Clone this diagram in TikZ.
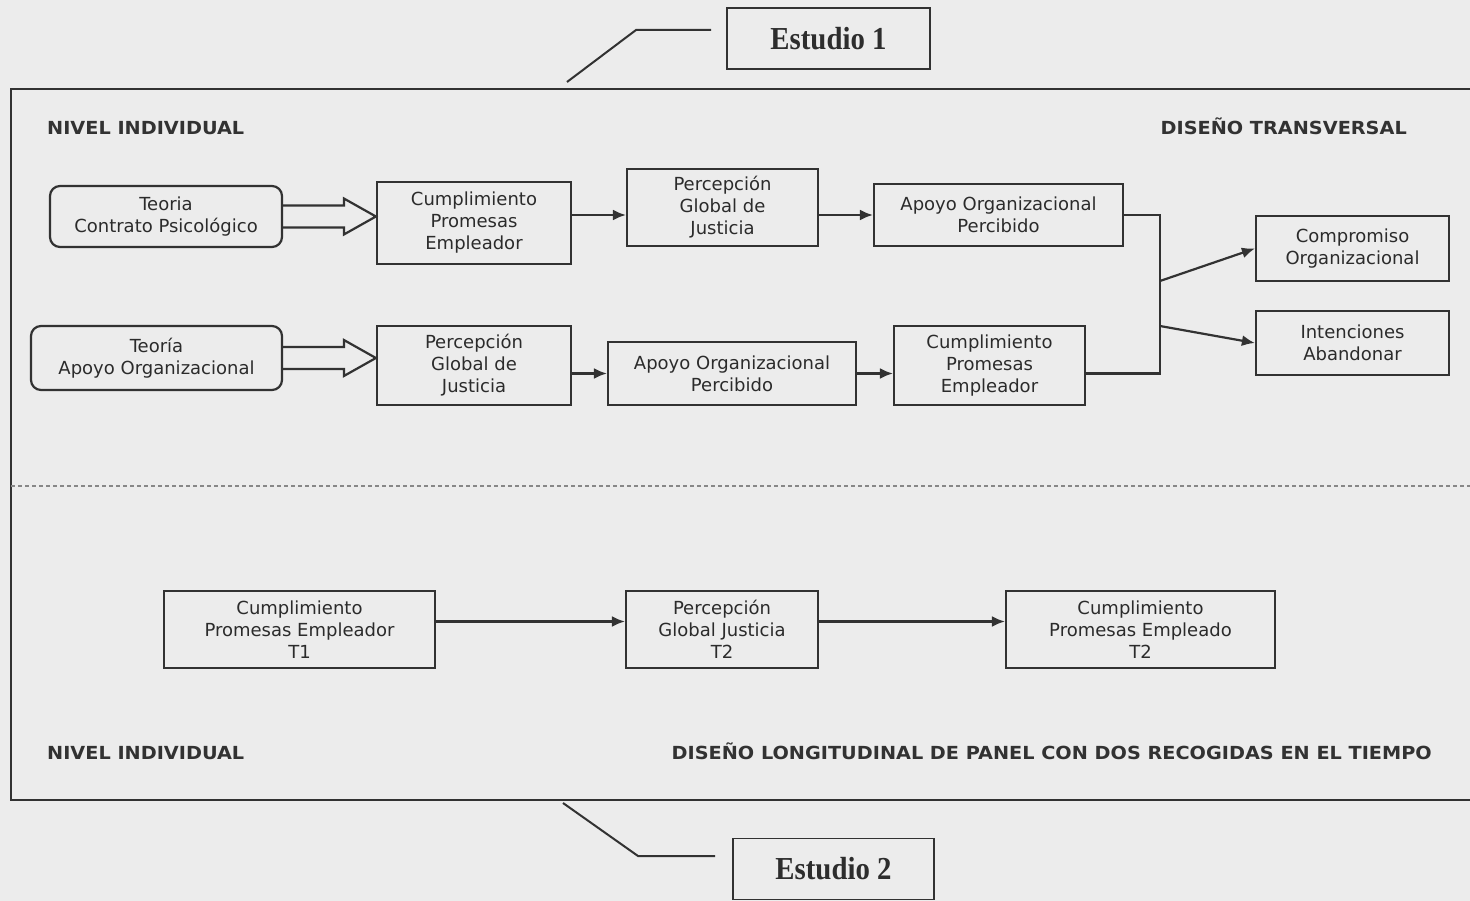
\documentclass[tikz,border=0pt]{standalone}
\usepackage{fontspec}
\setmainfont{DejaVu Sans}
\newfontfamily\headfont{DejaVu Sans}[FakeStretch=1.07]
\newfontfamily\studyfont{Liberation Serif}[FakeStretch=0.9]
\usetikzlibrary{arrows.meta,calc}
\definecolor{paper}{RGB}{236,236,236}
\definecolor{ink}{RGB}{50,50,50}
\definecolor{dashgray}{RGB}{135,135,135}

% outlined double-line arrow from a theory box to the first construct
\newcommand\blockarrow[2]{%
  \draw[link]
    ($(#1.east)+(0,-11)$) -- ($(#2.west |- #1.east)+(-32,-11)$) -- ++(0,-7)
    -- (#2.west |- #1.east)
    -- ($(#2.west |- #1.east)+(-32,18)$) -- ++(0,-7) -- ($(#1.east)+(0,11)$);}

\begin{document}
\begin{tikzpicture}[x=1pt,y=-1pt,
  wh/.style 2 args={minimum width=#1pt, minimum height=#2pt},
  box/.style={draw=ink, line width=2.2pt, align=center, inner sep=0pt,
    text=ink!85!black, font=\fontsize{18}{22}\selectfont},
  theory/.style={box, rounded corners=10pt},
  link/.style={draw=ink, line width=2.2pt},
  arr/.style={link, -{Latex[length=13pt,width=11pt]}},
  head/.style={font=\headfont\bfseries\fontsize{18}{22}\selectfont, text=ink, inner sep=0pt},
  study/.style={draw=ink, line width=1.8pt, inner sep=0pt,
    font=\studyfont\bfseries\fontsize{32}{34}\selectfont, text=ink!90!black}
]
\fill[paper] (0,0) rectangle (1470,901);
\useasboundingbox (0,0) rectangle (1470,901);
\clip (0,0) rectangle (1470,901);

% study frame and the divider between both studies
\draw[ink, line width=2.2pt] (11,89) rectangle (1490,800);
\draw[dashgray, line width=1.8pt, dash pattern=on 4pt off 3pt] (11,486) -- (1470,486);

% study labels with their leader lines
\node[study, wh={203}{61}] (e1) at (828.5,38.5) {Estudio 1};
\node[study, wh={201}{61}] (e2) at (833.5,869) {Estudio 2};
\coordinate (e1foot) at (567,82);
\coordinate (e1knee) at (636,30);
\coordinate (e2foot) at (563,803);
\coordinate (e2knee) at (638,856);
\draw[link, line width=2pt] (e1foot) -- (e1knee) -- ($(e1.west |- e1knee)+(-15,0)$);
\draw[link, line width=2pt] (e2foot) -- (e2knee) -- ($(e2.west |- e2knee)+(-17,0)$);

% headings
\node[head, anchor=base west] (lvl1) at (47,134.5) {NIVEL INDIVIDUAL};
\node[head, anchor=base east] (dis1) at (1407,134.5) {DISEÑO TRANSVERSAL};
\node[head, anchor=base west] (lvl2) at (47,759.5) {NIVEL INDIVIDUAL};
\node[head, anchor=base east] (dis2) at (1432,759.5) {DISEÑO LONGITUDINAL DE PANEL CON DOS RECOGIDAS EN EL TIEMPO};

% cross-sectional model, first path
\node[theory, wh={232}{61}] (tcp) at (166,216.5) {Teoria\\Contrato Psicológico};
\node[box, wh={194}{82}] (cpe1) at (474,223) {Cumplimiento\\Promesas\\Empleador};
\node[box, wh={191}{77}] (pgj1) at (722.5,207.5) {Percepción\\Global de\\Justicia};
\node[box, wh={249}{62}] (aop1) at (998.5,215) {Apoyo Organizacional\\Percibido};

% cross-sectional model, second path
\node[theory, wh={251}{64}] (tao) at (156.5,358) {Teoría\\Apoyo Organizacional};
\node[box, wh={194}{79}] (pgj2) at (474,365.5) {Percepción\\Global de\\Justicia};
\node[box, wh={248}{63}] (aop2) at (732,373.5) {Apoyo Organizacional\\Percibido};
\node[box, wh={191}{79}] (cpe2) at (989.5,365.5) {Cumplimiento\\Promesas\\Empleador};

% outcomes
\node[box, wh={193}{65}] (com) at (1352.5,248.5) {Compromiso\\Organizacional};
\node[box, wh={193}{64}] (int) at (1352.5,343) {Intenciones\\Abandonar};

\blockarrow{tcp}{cpe1}
\blockarrow{tao}{pgj2}

\draw[arr] (cpe1.east |- aop1.west) -- (pgj1.west |- aop1.west);
\draw[arr] (pgj1.east |- aop1.west) -- (aop1.west);
\draw[arr] (pgj2.east |- aop2.west) -- (aop2.west);
\draw[arr] (aop2.east) -- (cpe2.west |- aop2.east);

% both paths join before the outcomes
\coordinate (jx) at (1160,0);
\coordinate (j1) at (1160,281);
\coordinate (j2) at (1160,326);
\draw[link] (aop1.east) -- (aop1.east -| jx) -- (jx |- aop2.east) -- (cpe2.east |- aop2.east);
\draw[arr] (j1) -- (com.west);
\draw[arr] (j2) -- (int.west);

% longitudinal panel model
\node[box, wh={271}{77}] (b1) at (299.5,629.5) {Cumplimiento\\Promesas Empleador\\T1};
\node[box, wh={192}{77}] (b2) at (722,629.5) {Percepción\\Global Justicia\\T2};
\node[box, wh={269}{77}] (b3) at (1140.5,629.5) {Cumplimiento\\Promesas Empleado\\T2};
\draw[arr] ([yshift=8pt]b1.east) -- ([yshift=8pt]b2.west);
\draw[arr] ([yshift=8pt]b2.east) -- ([yshift=8pt]b3.west);
\end{tikzpicture}
\end{document}
